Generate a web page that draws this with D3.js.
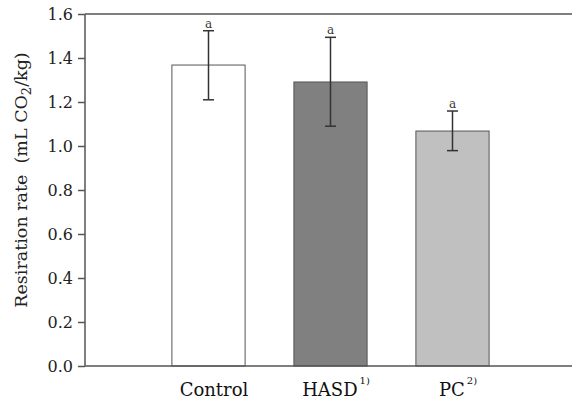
<!DOCTYPE html>
<html>
<head>
<meta charset="utf-8">
<script src="https://cdn.jsdelivr.net/npm/d3@7"></script>
<style>
  html, body { margin: 0; padding: 0; background: #fff; }
  svg { display: block; }
  text { font-family: "DejaVu Serif", "Liberation Serif", serif; }
</style>
</head>
<body>
<svg id="chart" width="572" height="402"></svg>
<script>
// ---- data ----
const categories = ["Control", "HASD", "PC"];
const superscripts = ["", "1)", "2)"];
const means = [1.368, 1.291, 1.068];
const errUpper = [1.524, 1.494, 1.159];
const errLower = [1.210, 1.090, 0.979];
const letters = ["a", "a", "a"];
const yTicks = [0.0, 0.2, 0.4, 0.6, 0.8, 1.0, 1.2, 1.4, 1.6];
const barFills = ["#ffffff", "#808080", "#c0c0c0"];

const svg = d3.select("#chart");
const mLeft = 85, mRight = 572, mTop = 14, mBottom = 366;

const x = d3.scaleBand().domain(categories).range([mLeft + 1, mRight + 2])
  .paddingInner(0.4).paddingOuter(0.7);
const y = d3.scaleLinear().domain([0, 1.6]).range([mBottom, mTop]);

// bars
svg.append("g").selectAll("rect").data(categories).join("rect")
  .attr("x", d => x(d) + 0.5)
  .attr("y", (d, i) => y(means[i]))
  .attr("width", x.bandwidth())
  .attr("height", (d, i) => y(0) - y(means[i]))
  .attr("fill", (d, i) => barFills[i])
  .attr("stroke", "#555")
  .attr("stroke-width", 1);

// error bars
const eg = svg.append("g").attr("stroke", "#333").attr("stroke-width", 1.5);
categories.forEach((c, i) => {
  const cx = x(c) + x.bandwidth() / 2 + 0.5;
  eg.append("line").attr("x1", cx).attr("x2", cx)
    .attr("y1", y(errUpper[i])).attr("y2", y(errLower[i]));
  [errUpper[i], errLower[i]].forEach(v => {
    eg.append("line").attr("x1", cx - 5.5).attr("x2", cx + 5.5)
      .attr("y1", y(v)).attr("y2", y(v));
  });
  svg.append("text").attr("x", cx).attr("y", y(errUpper[i]) - 3)
    .attr("text-anchor", "middle").attr("font-size", 12).attr("fill", "#3a3a3a")
    .text(letters[i]);
});

// axis frame
const axisColor = "#555";
const yAxis = d3.axisLeft(y).tickValues(yTicks).tickFormat(d3.format(".1f"))
  .tickSize(7).tickPadding(5);
const ga = svg.append("g").attr("transform", `translate(${mLeft},0)`).call(yAxis);
ga.select(".domain").attr("stroke", axisColor).attr("stroke-width", 1.5)
  .attr("d", `M0,${mTop}V${mBottom}`);
ga.selectAll(".tick line").attr("stroke", axisColor).attr("stroke-width", 1.5);
ga.selectAll(".tick text").attr("font-size", 16).attr("fill", "#222")
  .style("font-family", "DejaVu Serif");

svg.append("line").attr("x1", mLeft).attr("x2", mRight).attr("y1", mTop).attr("y2", mTop)
  .attr("stroke", axisColor).attr("stroke-width", 1.5);
svg.append("line").attr("x1", mLeft).attr("x2", mRight).attr("y1", mBottom).attr("y2", mBottom)
  .attr("stroke", axisColor).attr("stroke-width", 1.5);

// x labels
categories.forEach((c, i) => {
  const cx = x(c) + x.bandwidth() / 2;
  const t = svg.append("text").attr("x", cx + 6).attr("y", 396)
    .attr("text-anchor", "middle").attr("font-size", 18).attr("fill", "#111");
  t.append("tspan").text(c);
  if (superscripts[i]) {
    t.append("tspan").attr("dx", 2).attr("dy", -12).attr("font-size", 10).text(superscripts[i]);
  }
});

// y label
const yl = svg.append("text")
  .attr("transform", `translate(27,${(mTop + mBottom) / 2 - 10}) rotate(-90)`)
  .attr("text-anchor", "middle").attr("font-size", 17.5).attr("fill", "#222")
  .attr("xml:space", "preserve").style("white-space", "pre");
yl.append("tspan").text("Resiration rate  (mL CO");
yl.append("tspan").attr("dy", 4).attr("font-size", 13).text("2");
yl.append("tspan").attr("dy", -4).text("/kg)");
</script>
</body>
</html>
